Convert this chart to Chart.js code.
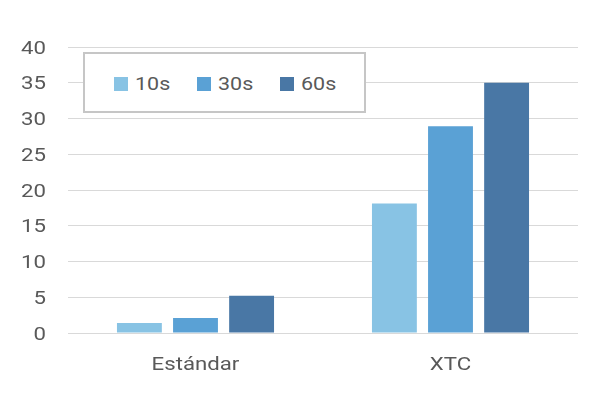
<!DOCTYPE html>
<html><head><meta charset="utf-8">
<script src="https://cdn.jsdelivr.net/npm/chart.js@4/dist/chart.umd.min.js"></script>
<style>
html,body{margin:0;padding:0;background:#fff;}
#wrap{position:relative;width:600px;height:405px;}
#legend{position:absolute;left:83px;top:52px;width:279px;height:57px;border:2px solid #c6c6c6;background:#fff;
 font-family:Roboto,sans-serif;font-size:19px;color:#595959;}
.item{display:flex;align-items:center;position:absolute;top:19px;line-height:22px;}
.sw{width:14px;height:14px;margin-right:7px;flex:none;}
.tx{display:inline-block;transform:scaleX(1.13);transform-origin:left center;}
</style></head>
<body><div id="wrap"><canvas id="c" width="600" height="405"></canvas><div id="legend"></div></div>
<script>
const categories = ["Estándar", "XTC"];
const seriesNames = ["10s", "30s", "60s"];
const values10s = [1.4, 18.1];
const values30s = [2.1, 28.9];
const values60s = [5.2, 35.0];
const colors = ["#88c3e4", "#5aa1d5", "#4977a5"];
const yTicks = [0, 5, 10, 15, 20, 25, 30, 35, 40];

const seriesValues = [values10s, values30s, values60s];
const lg = document.getElementById('legend');
const itemLeft = [29, 112, 195];
seriesNames.forEach((n, i) => {
  const d = document.createElement('div');
  d.className = 'item';
  d.style.left = itemLeft[i] + 'px';
  d.innerHTML = '<span class="sw" style="background:' + colors[i] + '"></span><span class="tx">' + n + '</span>';
  lg.appendChild(d);
});

const TEXT_COLOR = '#595959';
const FONT = '18.5px Roboto';
const STRETCH = 1.2;

const stretchedLabels = {
  id: 'stretchedLabels',
  afterDraw(chart) {
    const ctx = chart.ctx;
    const xs = chart.scales.x, ys = chart.scales.y;
    ctx.save();
    ctx.fillStyle = TEXT_COLOR;
    ctx.font = FONT;
    ctx.textBaseline = 'alphabetic';
    xs.ticks.forEach((t, i) => {
      const x = xs.getPixelForTick(i);
      ctx.save();
      ctx.translate(x, xs.top + 37);
      ctx.scale(STRETCH, 1);
      ctx.textAlign = 'center';
      ctx.fillText(categories[i], 0, 0);
      ctx.restore();
    });
    yTicks.forEach(v => {
      const y = ys.getPixelForValue(v);
      ctx.save();
      ctx.translate(46, y + 6.6);
      ctx.scale(STRETCH, 1);
      ctx.textAlign = 'right';
      ctx.fillText(String(v), 0, 0);
      ctx.restore();
    });
    ctx.restore();
  }
};

new Chart(document.getElementById('c'), {
  type: 'bar',
  data: {
    labels: categories,
    datasets: seriesNames.map((n, i) => ({
      label: n, data: seriesValues[i], backgroundColor: colors[i],
      categoryPercentage: 0.66, barPercentage: 0.8
    }))
  },
  plugins: [stretchedLabels],
  options: {
    responsive: false, animation: false,
    layout: { padding: { left: 0, right: 22, top: 47, bottom: 0 } },
    plugins: { legend: { display: false }, tooltip: { enabled: false } },
    scales: {
      x: {
        grid: { display: false, drawTicks: false },
        border: { display: false },
        ticks: { display: false },
        afterFit: s => { s.height = 72; }
      },
      y: {
        min: 0, max: 40,
        afterBuildTicks: s => { s.ticks = yTicks.map(v => ({ value: v })); },
        grid: { color: '#d9d9d9', lineWidth: 1, drawTicks: false },
        border: { display: false },
        ticks: { display: false },
        afterFit: s => { s.width = 68; }
      }
    }
  }
});
</script></body></html>
